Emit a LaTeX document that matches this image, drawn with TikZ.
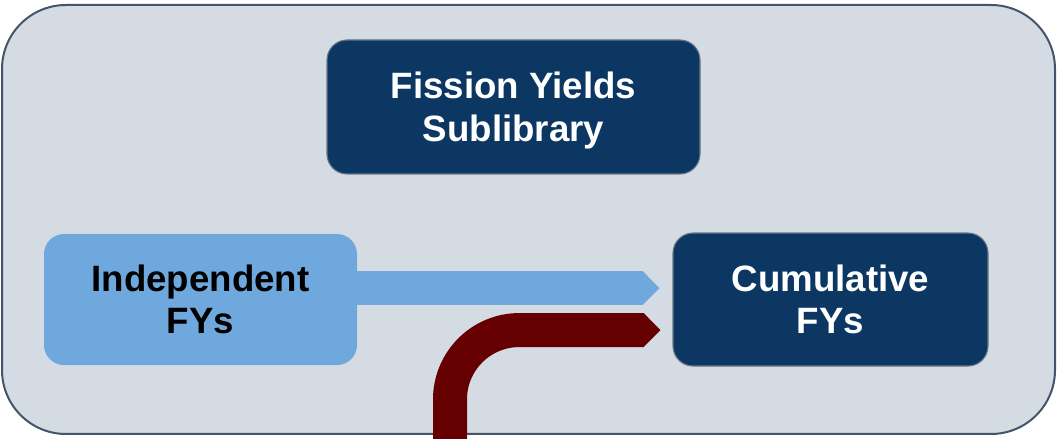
\documentclass[tikz,border=0pt]{standalone}
\usepackage{fontspec}
\setmainfont{Liberation Sans}
\usepackage{xcolor}
\usepackage{tikz}
\usetikzlibrary{arrows.meta}
\definecolor{framegray}{HTML}{D4DBE2}
\definecolor{frameline}{HTML}{44546A}
\definecolor{navy}{HTML}{0B3762}
\definecolor{skyblue}{HTML}{6FA8DC}
\definecolor{darkred}{HTML}{660000}
\tikzstyle{frame} = [rectangle, rounded corners=48pt, minimum width=789.75pt, minimum height=321.75pt, draw=frameline, line width=1.5pt, fill=framegray]
\tikzstyle{library} = [rectangle, rounded corners=15pt, minimum width=279.75pt, minimum height=100.5pt, text centered, draw=frameline!80, line width=0.8pt, fill=navy, text=white, font=\bfseries\fontsize{27.5}{32}\selectfont]
\tikzstyle{source} = [rectangle, rounded corners=15pt, minimum width=234.75pt, minimum height=98.25pt, text centered, fill=skyblue, text=black, font=\bfseries\fontsize{27.5}{32}\selectfont]
\tikzstyle{target} = [rectangle, rounded corners=15pt, minimum width=236.25pt, minimum height=99.75pt, text centered, draw=frameline!80, line width=0.8pt, fill=navy, text=white, font=\bfseries\fontsize{27.5}{32}\selectfont]
\tikzstyle{flow} = [line width=25.5pt, -{Triangle[length=12.75pt, width=25.5pt, line width=1pt]}]

\begin{document}
\begin{tikzpicture}[x=0.75pt, y=0.75pt, node distance=144.4pt]
    \useasboundingbox (0,0) rectangle (1057,439);
    \node (frame) [frame] at (528.5,219.5) {};
    \node (sublib) [library, align=center, text depth=0pt] at (513.5,332) {Fission Yields\\Sublibrary};
    \node (indep) [source, below of=sublib, xshift=-234.75pt, align=center] {Independent\\FYs};
    \node (cumul) [target, right of=indep, xshift=328.1pt, align=center] {Cumulative\\FYs};
    \coordinate (feed) at (450,0);
    \draw [flow, skyblue] ([xshift=-1pt, yshift=8.6pt]indep.east) -- ([xshift=-9.75pt, yshift=8.6pt]cumul.west);
    \draw [flow, darkred, rounded corners=52pt] (feed) |- ([xshift=-9pt, yshift=-22.9pt]cumul.west);
\end{tikzpicture}
\end{document}
